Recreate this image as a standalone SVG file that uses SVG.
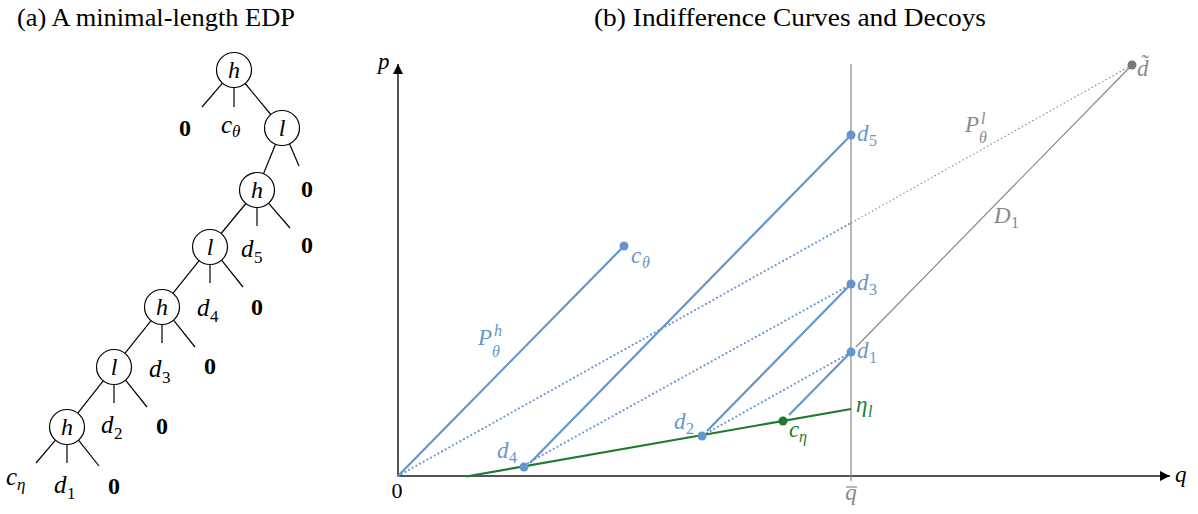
<svg xmlns="http://www.w3.org/2000/svg" width="1198" height="514" viewBox="0 0 1198 514">
<defs>
<style>
text{font-family:"Liberation Serif",serif;}
.title{font-size:26px;fill:#000;}
.m{font-style:italic;font-size:25px;fill:#000;}
.sub{font-size:17px;font-style:normal;}
.subi{font-size:17px;}
.z{font-weight:bold;font-size:24px;text-anchor:middle;fill:#000;}
.node circle{fill:#fff;stroke:#000;stroke-width:1.2;}
.node text{font-style:italic;font-size:24px;text-anchor:middle;}
.tree line{stroke:#000;stroke-width:1.2;}
.blue{stroke:#6496CD;stroke-width:2.2;fill:none;}
.bdot{stroke:#6496CD;stroke-width:2.2;stroke-dasharray:0 4.2;stroke-linecap:round;fill:none;}
.gdot{stroke:#888;stroke-width:1.1;stroke-dasharray:1.5 2.5;fill:none;}
.gray{stroke:#888;stroke-width:1.2;fill:none;}
.green{stroke:#1E7B2E;stroke-width:2.2;fill:none;}
.axis{stroke:#555;stroke-width:2;fill:none;}
.lb{font-style:italic;font-size:23px;fill:#6496CD;}
.lg{font-style:italic;font-size:23px;fill:#1E7B2E;}
.lgr{font-style:italic;font-size:23px;fill:#888;}
.s{font-size:16px;font-style:normal;}
.si{font-size:16px;}
</style>
<marker id="ah" viewBox="0 0 10 10" refX="10" refY="5" markerWidth="12" markerHeight="10" markerUnits="userSpaceOnUse" orient="auto"><path d="M0,0 L10,5 L0,10 z" fill="#000"/></marker>
</defs>
<rect width="1198" height="514" fill="#fff"/>

<text class="title" x="17" y="26" textLength="278" lengthAdjust="spacingAndGlyphs">(a) A minimal-length EDP</text>
<text class="title" x="594" y="26" textLength="392" lengthAdjust="spacingAndGlyphs">(b) Indifference Curves and Decoys</text>

<!-- Tree connectors -->
<g id="tree-connectors" class="tree">
<line x1="222.5" y1="83.2" x2="202" y2="107"/>
<line x1="234" y1="87.5" x2="234" y2="107"/>
<line x1="245.2" y1="83.5" x2="270.8" y2="114.5"/>
<line x1="275.5" y1="144.2" x2="263.5" y2="173.8"/>
<line x1="289.5" y1="143.8" x2="299" y2="166"/>
<line x1="245.9" y1="203.5" x2="221.1" y2="233.5"/>
<line x1="257" y1="207.5" x2="257" y2="226"/>
<line x1="268.5" y1="203.2" x2="290" y2="228"/>
<line x1="199.1" y1="260.7" x2="172.9" y2="293.3"/>
<line x1="210" y1="264.5" x2="210" y2="283"/>
<line x1="221.5" y1="260.2" x2="243" y2="287"/>
<line x1="151.1" y1="320.7" x2="124.9" y2="353.3"/>
<line x1="162" y1="324.5" x2="162" y2="343"/>
<line x1="173.5" y1="320.2" x2="195" y2="347"/>
<line x1="103.2" y1="380.8" x2="77.8" y2="413.2"/>
<line x1="114" y1="384.5" x2="114" y2="403"/>
<line x1="125.5" y1="380.2" x2="147" y2="407"/>
<line x1="55.5" y1="440.2" x2="36" y2="463"/>
<line x1="67" y1="444.5" x2="67" y2="463"/>
<line x1="78.5" y1="440.2" x2="99" y2="466"/>
</g>

<g id="n-h1" class="node"><circle cx="234" cy="70" r="17.5"/><text x="234" y="78">h</text></g>
<g id="n-l1" class="node"><circle cx="282" cy="128" r="17.5"/><text x="282" y="136">l</text></g>
<g id="n-h2" class="node"><circle cx="257" cy="190" r="17.5"/><text x="257" y="198">h</text></g>
<g id="n-l2" class="node"><circle cx="210" cy="247" r="17.5"/><text x="210" y="255">l</text></g>
<g id="n-h3" class="node"><circle cx="162" cy="307" r="17.5"/><text x="162" y="315">h</text></g>
<g id="n-l3" class="node"><circle cx="114" cy="367" r="17.5"/><text x="114" y="375">l</text></g>
<g id="n-h4" class="node"><circle cx="67" cy="427" r="17.5"/><text x="67" y="435">h</text></g>

<g id="tree-leaves">
<text class="z" x="185" y="136">0</text>
<text class="m" x="221" y="133">c<tspan class="subi" x="232" y="137">θ</tspan></text>
<text class="z" x="307" y="197">0</text>
<text class="m" x="241" y="257">d<tspan class="sub" x="254" y="263">5</tspan></text>
<text class="z" x="307" y="253">0</text>
<text class="m" x="197" y="316">d<tspan class="sub" x="210" y="322">4</tspan></text>
<text class="z" x="257" y="315">0</text>
<text class="m" x="149" y="377">d<tspan class="sub" x="162" y="383">3</tspan></text>
<text class="z" x="210" y="374">0</text>
<text class="m" x="101" y="433">d<tspan class="sub" x="114" y="439">2</tspan></text>
<text class="z" x="162" y="434">0</text>
<text class="m" x="6" y="485">c<tspan class="subi" x="17" y="490">η</tspan></text>
<text class="m" x="54" y="493">d<tspan class="sub" x="67" y="499">1</tspan></text>
<text class="z" x="114" y="494">0</text>
</g>

<!-- Panel b -->
<g id="axes">
<line class="axis" x1="398" y1="477" x2="398" y2="64" marker-end="url(#ah)"/>
<line class="axis" x1="397" y1="476" x2="1170" y2="476" marker-end="url(#ah)"/>
<line class="gray" x1="851" y1="64" x2="851" y2="481"/>
<text class="m" x="378" y="69" style="font-size:23px">p</text>
<text class="m" x="1175" y="482" style="font-size:23px">q</text>
<text x="397" y="498" text-anchor="middle" style="font-size:22px">0</text>
<text class="lgr" x="851" y="500" text-anchor="middle">q</text>
<line x1="846" y1="487" x2="857" y2="487" stroke="#888" stroke-width="1.2"/>
</g>

<g id="connectors">
<line class="gdot" x1="851" y1="223" x2="1132" y2="65"/>
<line class="gray" x1="856" y1="347" x2="1130" y2="67"/>
<line class="bdot" x1="398" y1="476" x2="851" y2="223"/>
<line class="bdot" x1="528" y1="463" x2="848" y2="286"/>
<line class="bdot" x1="707" y1="433" x2="848" y2="354"/>
<line class="blue" x1="398" y1="476" x2="624" y2="246"/>
<line class="blue" x1="530" y1="463" x2="851" y2="135"/>
<line class="blue" x1="707" y1="431" x2="851" y2="284"/>
<line class="blue" x1="789" y1="415" x2="851" y2="352"/>
<line class="green" x1="466" y1="476.5" x2="851" y2="409"/>
</g>

<g id="p-ctheta"><circle cx="624" cy="246" r="4.5" fill="#6496CD"/><text class="lb" x="631" y="263">c<tspan class="si" x="642" y="268">θ</tspan></text></g>
<g id="p-d5"><circle cx="851" cy="135" r="4.5" fill="#6496CD"/><text class="lb" x="857" y="141">d<tspan class="s" x="869" y="146">5</tspan></text></g>
<g id="p-d3"><circle cx="851" cy="284" r="4.5" fill="#6496CD"/><text class="lb" x="857" y="290">d<tspan class="s" x="869" y="295">3</tspan></text></g>
<g id="p-d1"><circle cx="851" cy="352" r="4.5" fill="#6496CD"/><text class="lb" x="857" y="358">d<tspan class="s" x="869" y="363">1</tspan></text></g>
<g id="p-d4"><circle cx="524" cy="467" r="4.5" fill="#6496CD"/><text class="lb" x="497" y="458">d<tspan class="s" x="509" y="463">4</tspan></text></g>
<g id="p-d2"><circle cx="702" cy="436" r="4.5" fill="#6496CD"/><text class="lb" x="674" y="429">d<tspan class="s" x="686" y="434">2</tspan></text></g>
<g id="p-ceta"><circle cx="783" cy="421" r="4.5" fill="#1E7B2E"/><text class="lg" x="789" y="437">c<tspan class="si" x="799" y="442">η</tspan></text></g>
<g id="p-etal"><text class="lg" x="856" y="412">η<tspan class="si" x="868" y="417">l</tspan></text></g>
<g id="p-dtilde"><circle cx="1132" cy="65" r="4.5" fill="#777"/><text class="lgr" x="1137" y="76">d̃</text></g>
<g id="lbl-Ph"><text class="lb" x="478" y="345">P<tspan class="si" x="494" y="336">h</tspan><tspan class="si" x="492" y="357">θ</tspan></text></g>
<g id="lbl-Pl"><text class="lgr" x="965" y="132">P<tspan class="si" x="981" y="124">l</tspan><tspan class="si" x="979" y="143">θ</tspan></text></g>
<g id="lbl-D1"><text class="lgr" x="994" y="223">D<tspan class="s" x="1011" y="228">1</tspan></text></g>
</svg>
